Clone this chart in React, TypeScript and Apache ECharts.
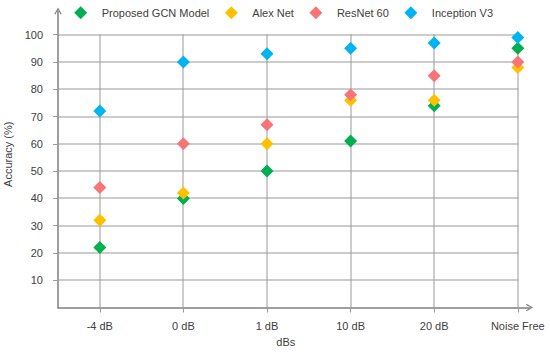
import React, { useEffect, useRef } from "react";
import * as echarts from "echarts";

const categories = ["-4 dB", "0 dB", "1 dB", "10 dB", "20 dB", "Noise Free"];
const gcnValues = [22, 40, 50, 61, 74, 95];
const alexValues = [32, 42, 60, 76, 76, 88];
const resnetValues = [44, 60, 67, 78, 85, 90];
const inceptionValues = [72, 90, 93, 95, 97, 99];
const yTicks = [10, 20, 30, 40, 50, 60, 70, 80, 90, 100];
const seriesNames = ["Proposed GCN Model", "Alex Net", "ResNet 60", "Inception V3"];
const seriesColors = ["#00b050", "#ffc000", "#f87478", "#00b4f0"];

const FONT = "Liberation Sans, Arial, Helvetica, sans-serif";
const GRID_COLOR = "#9a9a9a";
const AXIS_COLOR = "#7f7f7f";
const TEXT_COLOR = "#404040";
const CHEVRON = "path://M0,9 L5,0 L10,9 L8.6,9.6 L5,3 L1.4,9.6 Z";

export default function App() {
  const ref = useRef<HTMLDivElement>(null);

  useEffect(() => {
    if (!ref.current) return;
    const chart = echarts.init(ref.current, null, { renderer: "svg" });
    const catIdx = categories.map((_, i) => i);
    const xMin = -0.5;
    const xLast = categories.length - 1;
    const yTop = yTicks[yTicks.length - 1];

    const hGrid = {
      type: "custom",
      silent: true,
      z: 1,
      data: yTicks.map((v) => [v]),
      encode: { y: 0 },
      renderItem: (_params: any, api: any) => {
        const v = api.value(0);
        const p0 = api.coord([xMin, v]);
        const p1 = api.coord([xLast, v]);
        const y = Math.round(p0[1]);
        return {
          type: "rect",
          shape: { x: p0[0], y: y - 0.5, width: p1[0] - p0[0] + 0.5, height: 1 },
          style: { fill: GRID_COLOR },
        };
      },
    };
    const vGrid = {
      type: "custom",
      silent: true,
      z: 1,
      data: catIdx.map((i) => [i]),
      encode: { x: 0 },
      renderItem: (_params: any, api: any) => {
        const i = api.value(0);
        const p0 = api.coord([i, 0]);
        const p1 = api.coord([i, yTop]);
        const x = Math.round(p0[0]);
        return {
          type: "rect",
          shape: { x: x - 0.5, y: p1[1] - 0.5, width: 1, height: p0[1] - p1[1] },
          style: { fill: GRID_COLOR },
        };
      },
    };

    const allValues = [gcnValues, alexValues, resnetValues, inceptionValues];

    const scatterSeries: any[] = allValues.map((vals, s) => ({
      name: seriesNames[s],
      type: "scatter",
      symbol: "diamond",
      symbolSize: 13,
      z: 3,
      itemStyle: { color: seriesColors[s], opacity: 1 },
      data: vals.map((v, i) => [i, v]),
    }));

    chart.setOption({
      animation: false,
      textStyle: { fontFamily: FONT },
      legend: {
        top: 1.2,
        left: 69.2,
        itemWidth: 13,
        itemHeight: 13,
        itemGap: 15.5,
        icon: "diamond",
        textStyle: { color: TEXT_COLOR, fontSize: 11, fontFamily: FONT, padding: [0, 0, 0, 9.5] },
        data: seriesNames,
      },
      grid: { left: 58, right: 20.5, top: 11, bottom: 45.5, outerBoundsMode: "none", containLabel: false },
      xAxis: {
        type: "value",
        min: xMin,
        max: 5.14,
        name: "dBs",
        nameLocation: "middle",
        nameGap: 29,
        nameTextStyle: { color: TEXT_COLOR, fontSize: 11, padding: [0, 16, 0, 0] },
        axisLine: {
          show: true,
          onZero: false,
          lineStyle: { color: AXIS_COLOR, width: 1.5 },
          symbol: ["none", CHEVRON],
          symbolSize: [11, 7],
        },
        axisTick: {
          show: true,
          length: 5,
          customValues: catIdx,
          lineStyle: { color: GRID_COLOR },
        },
        axisLabel: {
          customValues: catIdx,
          color: TEXT_COLOR,
          fontSize: 11,
          margin: 13,
          formatter: (v: number) => categories[Math.round(v)] ?? "",
        },
        splitLine: { show: false },
      },
      yAxis: {
        type: "value",
        min: 0,
        max: 108.7,
        name: "Accuracy (%)",
        nameLocation: "middle",
        nameGap: 39,
        nameRotate: 90,
        nameTextStyle: { color: TEXT_COLOR, fontSize: 11, padding: [0, 0, 0, 10] },
        axisLine: {
          show: true,
          onZero: false,
          lineStyle: { color: AXIS_COLOR, width: 1.5 },
          symbol: ["none", CHEVRON],
          symbolSize: [11, 7],
        },
        axisTick: {
          show: true,
          length: 5,
          customValues: yTicks,
          lineStyle: { color: GRID_COLOR },
        },
        axisLabel: {
          customValues: yTicks,
          color: TEXT_COLOR,
          fontSize: 11,
          margin: 15,
        },
        splitLine: { show: false },
      },
      series: [hGrid, vGrid, ...scatterSeries],
    });

    return () => chart.dispose();
  }, []);

  return (
    <div
      ref={ref}
      style={{ position: "fixed", left: 0, top: 0, width: 550, height: 353, background: "#fff" }}
    />
  );
}
